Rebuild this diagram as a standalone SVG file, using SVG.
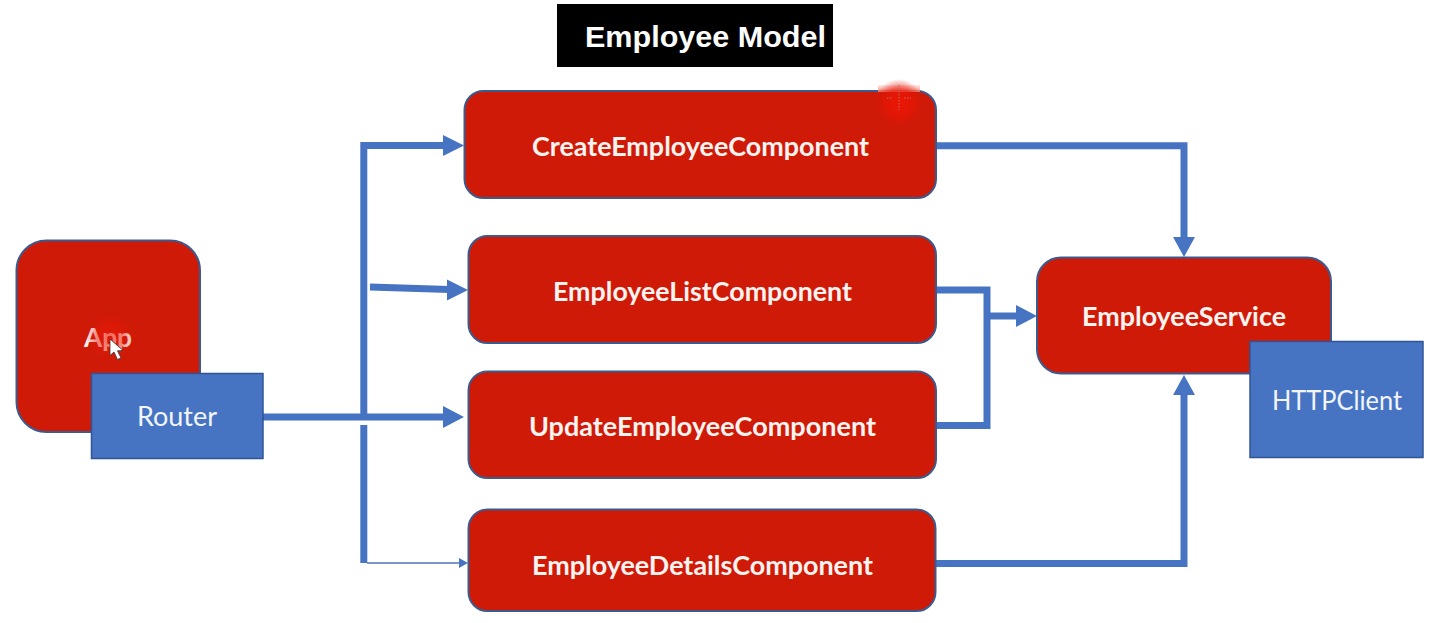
<svg xmlns="http://www.w3.org/2000/svg" width="1430" height="623" viewBox="0 0 1430 623">
<style>
.red{fill:#cf1a07;stroke:#3d5a8f;stroke-width:2}
.blue{fill:#4674c2;stroke:#2f5597;stroke-width:1.5}
.b{font-family:Lato,"Liberation Sans",sans-serif;font-weight:700;font-size:27px;fill:#fbf3ef}
.r{font-family:Lato,"Liberation Sans",sans-serif;font-weight:400;font-size:27px;fill:#f2f5fb}
.line{fill:none;stroke:#4674c2;stroke-width:7}
.head{fill:#4674c2}
.dot{fill:none;stroke:#b5705f;stroke-width:1;stroke-dasharray:1.5 1.5}
</style>
<defs>
<radialGradient id="glow"><stop offset="0" stop-color="#f01505" stop-opacity=".95"/><stop offset=".6" stop-color="#ea1505" stop-opacity=".6"/><stop offset="1" stop-color="#e01505" stop-opacity="0"/></radialGradient>
<radialGradient id="soft"><stop offset="0" stop-color="#ee1808" stop-opacity=".62"/><stop offset=".55" stop-color="#e81808" stop-opacity=".5"/><stop offset="1" stop-color="#d81808" stop-opacity="0"/></radialGradient>
<linearGradient id="pale" x1="0" y1="0" x2="0" y2="1"><stop offset="0" stop-color="#f9b9b0" stop-opacity=".3"/><stop offset="1" stop-color="#f57a6c"/></linearGradient>
</defs>
<rect width="1430" height="623" fill="#fff"/>
<g id="title"><rect x="557" y="4" width="276" height="63" fill="#000"/><text x="585" y="47" font-family="Liberation Sans, sans-serif" font-weight="700" font-size="30" fill="#fff" textLength="241" lengthAdjust="spacingAndGlyphs">Employee Model</text></g>
<g id="connectors">
<path class="line" d="M363.8 414V145.5H445"/><polygon class="head" points="464,145.5 443,135 443,156"/>
<path class="line" d="M370 287L449 289.4"/><polygon class="head" points="468,290 447,279.5 447,300.5"/>
<path class="line" d="M263 417H445"/><polygon class="head" points="464,417 443,406 443,428"/>
<path class="line" d="M363.8 425V563"/><path fill="none" stroke="#4f74b5" stroke-width="1.3" d="M367 563H460"/><polygon class="head" points="468,563 459,558 459,568"/>
<path class="line" d="M936 145.7H1184V238"/><polygon class="head" points="1184,257 1173,237 1195,237"/>
<path class="line" d="M936 290H987V425.5H936"/>
<path class="line" d="M987 316H1018"/><polygon class="head" points="1037,316 1016,305 1016,327"/>
<path class="line" d="M936 563.5H1184V394"/><polygon class="head" points="1184,375 1173,395 1195,395"/>
</g>
<g id="app"><rect class="red" x="16.5" y="240.5" width="183.5" height="191.5" rx="30"/><text class="b" x="84" y="347" textLength="48" lengthAdjust="spacingAndGlyphs">App</text></g>
<circle cx="110" cy="337" r="24" fill="url(#soft)"/>
<path d="M110 339V355.5L114 352L117.5 359.5L121 358L117.5 350.8L123 350.5Z" fill="#fff" stroke="#333" stroke-width=".8"/>
<g id="router"><rect class="blue" x="91.5" y="373.5" width="171.5" height="85"/><text class="r" x="137" y="426" textLength="80" lengthAdjust="spacingAndGlyphs">Router</text></g>
<g id="create"><rect class="red" x="464.5" y="91" width="471.5" height="107" rx="19"/><text class="b" x="532" y="155.5" textLength="337" lengthAdjust="spacingAndGlyphs">CreateEmployeeComponent</text></g>
<rect x="878" y="85" width="42" height="7" fill="url(#pale)"/>
<circle cx="899" cy="103" r="24" fill="url(#glow)"/>
<path class="dot" d="M899 85V110M887 98H893M904 98H911"/>
<g id="list"><rect class="red" x="468.5" y="236" width="467.5" height="107" rx="19"/><text class="b" x="553" y="300.5" textLength="299" lengthAdjust="spacingAndGlyphs">EmployeeListComponent</text></g>
<g id="update"><rect class="red" x="468.5" y="371.5" width="467.5" height="106.5" rx="19"/><text class="b" x="529" y="435.5" textLength="347" lengthAdjust="spacingAndGlyphs">UpdateEmployeeComponent</text></g>
<g id="details"><rect class="red" x="468.5" y="509.5" width="467" height="101.5" rx="19"/><text class="b" x="532" y="574.5" textLength="341" lengthAdjust="spacingAndGlyphs">EmployeeDetailsComponent</text></g>
<g id="service"><rect class="red" x="1037" y="257.5" width="294" height="116" rx="24"/><text class="b" x="1082" y="325.5" textLength="204" lengthAdjust="spacingAndGlyphs">EmployeeService</text></g>
<g id="httpclient"><rect class="blue" x="1250" y="341.5" width="173" height="116"/><text class="r" x="1272" y="409.5" textLength="130" lengthAdjust="spacingAndGlyphs">HTTPClient</text></g>
</svg>
